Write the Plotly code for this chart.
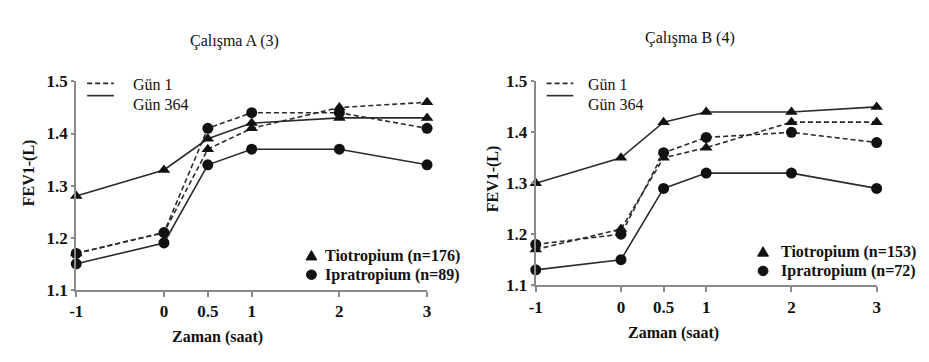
import plotly.graph_objects as go

# ---------------- data ----------------
x_hours = [-1, 0, 0.5, 1, 2, 3]
x_tick_labels = ["-1", "0", "0.5", "1", "2", "3"]
y_ticks = [1.1, 1.2, 1.3, 1.4, 1.5]
y_tick_labels = ["1.1", "1.2", "1.3", "1.4", "1.5"]

# Çalışma A (3)
a_tio_gun1 = [1.17, 1.21, 1.37, 1.41, 1.45, 1.46]
a_tio_gun364 = [1.28, 1.33, 1.39, 1.42, 1.43, 1.43]
a_ipra_gun1 = [1.17, 1.21, 1.41, 1.44, 1.44, 1.41]
a_ipra_gun364 = [1.15, 1.19, 1.34, 1.37, 1.37, 1.34]

# Çalışma B (4)
b_tio_gun1 = [1.17, 1.21, 1.35, 1.37, 1.42, 1.42]
b_tio_gun364 = [1.30, 1.35, 1.42, 1.44, 1.44, 1.45]
b_ipra_gun1 = [1.18, 1.20, 1.36, 1.39, 1.40, 1.38]
b_ipra_gun364 = [1.13, 1.15, 1.29, 1.32, 1.32, 1.29]

titles = ["Çalışma A (3)", "Çalışma B (4)"]
tio_labels = ["Tiotropium (n=176)", "Tiotropium (n=153)"]
ipra_labels = ["Ipratropium (n=89)", "Ipratropium (n=72)"]
day_labels = ["Gün 1", "Gün 364"]
x_title = "Zaman (saat)"
y_title = "FEV1-(L)"

# ---------------- layout helpers ----------------
W, H = 929, 362
FONT = "Liberation Serif"
LINE_COL = "#2b2b2b"
AXIS_COL = "#8a8a8a"


def px(x):
    return x / W


def py(y):
    return (H - y) / H


fig = go.Figure()

panels = [
    dict(xa="x", ya="y", data=[(a_tio_gun1, "triangle-up", "dash"), (a_tio_gun364, "triangle-up", "solid"),
                              (a_ipra_gun1, "circle", "dash"), (a_ipra_gun364, "circle", "solid")]),
    dict(xa="x2", ya="y2", data=[(b_tio_gun1, "triangle-up", "dash"), (b_tio_gun364, "triangle-up", "solid"),
                                (b_ipra_gun1, "circle", "dash"), (b_ipra_gun364, "circle", "solid")]),
]

for p in panels:
    for vals, sym, dash in p["data"]:
        fig.add_trace(go.Scatter(
            x=x_hours, y=vals, xaxis=p["xa"], yaxis=p["ya"],
            mode="lines+markers", cliponaxis=False, showlegend=False,
            line=dict(color=LINE_COL, width=1.6, dash="5px,3px" if dash == "dash" else "solid"),
            marker=dict(symbol=sym, size=11, color="#111111"),
        ))

xaxis_common = dict(
    range=[-1, 3], tickvals=x_hours, ticktext=x_tick_labels,
    showline=True, linecolor=AXIS_COL, linewidth=2, showgrid=False, zeroline=False,
    ticks="outside", ticklen=5, tickcolor=AXIS_COL, tickwidth=1.5,
    tickfont=dict(family=FONT, size=17, color="#111111", weight="bold"),
)
yaxis_common = dict(
    range=[1.1, 1.5], tickvals=y_ticks, ticktext=y_tick_labels,
    showline=True, linecolor=AXIS_COL, linewidth=2, showgrid=False, zeroline=False,
    ticks="outside", ticklen=3, tickcolor=AXIS_COL, tickwidth=1.5,
    tickfont=dict(family=FONT, size=17, color="#111111", weight="bold"),
)

fig.update_layout(
    width=W, height=H, autosize=False,
    margin=dict(l=0, r=0, t=0, b=0),
    paper_bgcolor="white", plot_bgcolor="white",
    showlegend=False,
    font=dict(family=FONT),
    xaxis=dict(domain=[px(62), px(417)], anchor="y", **xaxis_common),
    yaxis=dict(domain=[py(288), py(68)], anchor="x", **yaxis_common),
    xaxis2=dict(domain=[px(527), px(872)], anchor="y2", **xaxis_common),
    yaxis2=dict(domain=[py(283), py(68)], anchor="x2", **yaxis_common),
)

annotations = []
shapes = []


def text(x, y, s, size=15, bold=False, xanchor="center", angle=0):
    annotations.append(dict(
        x=px(x), y=py(y), xref="paper", yref="paper", text=s, showarrow=False,
        xanchor=xanchor, yanchor="middle", textangle=angle,
        font=dict(family=FONT, size=size, color="#111111", weight="bold" if bold else "normal"),
    ))


# titles
text(222, 25, titles[0], size=16)
text(683, 22, titles[1], size=16)
# axis titles
text(205, 338, x_title, size=16, bold=True)
text(666, 333, x_title, size=16, bold=True)
text(15, 164, y_title, size=16, bold=True, angle=-90)
text(484, 171, y_title, size=16, bold=True, angle=-90)

# line-style legends
for (lx0, lx1, tx) in [(73, 100, 117), (538, 565, 578)]:
    shapes.append(dict(type="line", xref="paper", yref="paper", x0=px(lx0), x1=px(lx1), y0=py(70), y1=py(70),
                       line=dict(color=LINE_COL, width=1.6, dash="5px,3px")))
    shapes.append(dict(type="line", xref="paper", yref="paper", x0=px(lx0), x1=px(lx1), y0=py(83), y1=py(83),
                       line=dict(color=LINE_COL, width=1.6)))
    text(tx, 71, day_labels[0], size=16, xanchor="left")
    text(tx, 92, day_labels[1], size=16, xanchor="left")


# marker legends
def triangle(cx, cy, r=5.5):
    pts = [(cx, cy - r), (cx - r, cy + r * 0.8), (cx + r, cy + r * 0.8)]
    path = "M " + " L ".join(f"{px(a):.5f},{py(b):.5f}" for a, b in pts) + " Z"
    shapes.append(dict(type="path", xref="paper", yref="paper", path=path,
                       fillcolor="#111111", line=dict(color="#111111", width=1)))


def circle(cx, cy, r=5):
    shapes.append(dict(type="circle", xref="paper", yref="paper",
                       x0=px(cx - r), x1=px(cx + r), y0=py(cy + r), y1=py(cy - r),
                       fillcolor="#111111", line=dict(color="#111111", width=1)))


for i, (mx, ty1, ty2, tx) in enumerate([(300, 252, 272, 312), (757, 248, 268, 773)]):
    triangle(mx, ty1)
    circle(mx, ty2)
    text(tx, ty1, tio_labels[i], size=16, bold=True, xanchor="left")
    text(tx, ty2, ipra_labels[i], size=16, bold=True, xanchor="left")

fig.update_layout(annotations=annotations, shapes=shapes)

fig.write_html("out.html")
